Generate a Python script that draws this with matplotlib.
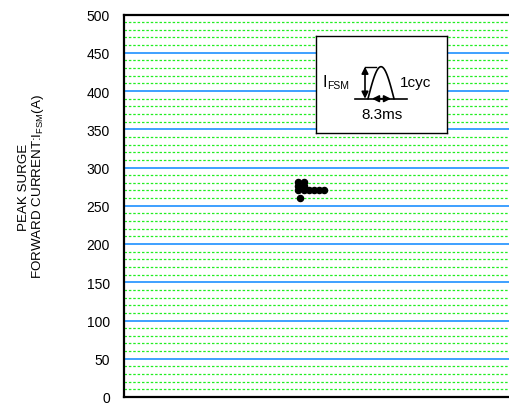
import matplotlib
matplotlib.use("Agg")
import matplotlib.pyplot as plt
import numpy as np

plt.rcParams['font.family'] = ['Liberation Sans', 'DejaVu Sans']
plt.rcParams['mathtext.fontset'] = 'custom'
plt.rcParams['mathtext.rm'] = 'Liberation Sans'
plt.rcParams['mathtext.it'] = 'Liberation Sans'
plt.rcParams['mathtext.default'] = 'rm'

# data (x in arbitrary units, no x tick labels in the reference)
pts_x = [44.6, 46.1, 44.6, 46.1, 44.6, 45.9, 47.2, 48.5, 49.8, 51.1, 44.9]
pts_y = [281, 281, 276, 276, 270, 270, 270, 270, 270, 270, 260]
y_ticks = [0, 50, 100, 150, 200, 250, 300, 350, 400, 450, 500]
y_minor = [v for v in range(0, 501, 10) if v % 50 != 0]

fig = plt.figure(figsize=(5.10, 4.06), dpi=100)
ax = fig.add_axes([124/510, 8/406, 1.0 - 124/510 + 0.01, (398-15.5)/406])
ax.set_xlim(0, 100)
ax.set_ylim(0, 500)
ax.set_yticks(y_ticks)
ax.set_yticks(y_minor, minor=True)
ax.set_xticks([])
ax.tick_params(axis='y', which='both', length=0, pad=10, labelsize=10)

for v in y_minor:
    ax.axhline(v, color='#22ee22', lw=0.9, ls=(0, (2, 1.5)), zorder=1)
for v in y_ticks[1:-1]:
    ax.axhline(v, color='#1e90ff', lw=1.2, zorder=2)

for s in ['left', 'bottom', 'top']:
    ax.spines[s].set_linewidth(1.6)
    ax.spines[s].set_color('black')
ax.spines['right'].set_visible(False)

ax.plot(pts_x, pts_y, 'o', color='black', ms=4.4, zorder=5, clip_on=False)

fig.text(32/510, 1 - 187/406, "PEAK SURGE\nFORWARD CURRENT:I$_{\\mathrm{FSM}}$(A)",
         rotation=90, ha='center', va='center', multialignment='center',
         fontsize=9.6, linespacing=1.05)

# inset pictogram
bx0, by0, bw, bh = 316, 36.7, 131, 97
ins = fig.add_axes([bx0/510, 1 - (by0+bh)/406, bw/510, bh/406])
ins.set_xlim(0, bw)
ins.set_ylim(bh, 0)
ins.set_xticks([]); ins.set_yticks([])
for s in ins.spines.values():
    s.set_linewidth(1.0)
    s.set_color('black')
ins.set_facecolor('white')
ins.set_zorder(10)

base_y, peak_y = 63, 31
ins.plot([39, 91], [base_y, base_y], color='black', lw=1.2)
t = np.linspace(0, np.pi, 60)
ins.plot(52 + (78-52) * t/np.pi, base_y - (base_y-peak_y) * np.sin(t), color='black', lw=1.2)
ins.plot([49, 60], [peak_y, peak_y], color='black', lw=1.0)
ins.annotate('', xy=(49, peak_y), xytext=(49, base_y),
             arrowprops=dict(arrowstyle='<|-|>', color='black', lw=1.2,
                             mutation_scale=10, shrinkA=0, shrinkB=0))
ins.annotate('', xy=(56, base_y), xytext=(75, base_y),
             arrowprops=dict(arrowstyle='<|-|>', color='black', lw=1.2,
                             mutation_scale=10, shrinkA=0, shrinkB=0))
ins.text(6.5, 46, "I", fontsize=11.5, ha='left', va='center')
ins.text(11.5, 49.5, "FSM", fontsize=7.5, ha='left', va='center')
ins.text(84, 46, "1cyc", fontsize=11, ha='left', va='center')
ins.text(66, 78, "8.3ms", fontsize=11, ha='center', va='center')

fig.savefig("out.png", dpi=100)
